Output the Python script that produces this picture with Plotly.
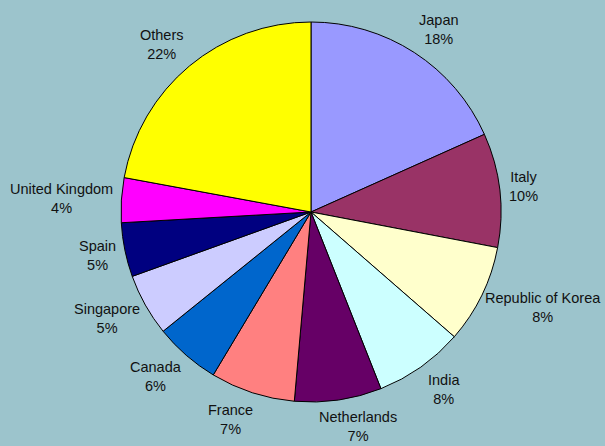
import math
import plotly.graph_objects as go

countries = ["Japan", "Italy", "Republic of Korea", "India", "Netherlands", "France",
             "Canada", "Singapore", "Spain", "United Kingdom", "Others"]
shares = [18.3, 9.7, 8.4, 7.6, 7.4, 7.2, 5.6, 5.3, 4.6, 3.8, 22.1]
pct_labels = ["18%", "10%", "8%", "8%", "7%", "7%", "6%", "5%", "5%", "4%", "22%"]
colors = ["#9999FF", "#993366", "#FFFFCC", "#CCFFFF", "#660066", "#FF8080",
          "#0066CC", "#CCCCFF", "#000080", "#FF00FF", "#FFFF00"]

W, H = 605, 446
cx, cy, r = 311, 212, 190
FONT = "Liberation Sans, Arial, sans-serif"
FS = 14.5

fig = go.Figure(go.Pie(
    labels=countries,
    values=shares,
    sort=False,
    direction="clockwise",
    rotation=0,
    marker=dict(colors=colors, line=dict(color="#000000", width=1)),
    textinfo="none",
    domain=dict(x=[(cx - r) / W, (cx + r) / W], y=[(H - cy - r) / H, (H - cy + r) / H]),
    showlegend=False,
    hoverinfo="label+percent",
))

# approximate Arial glyph widths (em) to place labels like the original
EM = {" ": 0.278, "i": 0.222, "j": 0.222, "l": 0.222, "f": 0.278, "t": 0.278,
      "r": 0.333, "m": 0.833, "w": 0.722, "k": 0.5, "s": 0.5, "c": 0.5,
      "y": 0.5, "v": 0.5, "I": 0.278, "J": 0.5, "N": 0.722, "O": 0.778,
      "R": 0.722, "C": 0.722, "%": 0.889}


def text_width(s):
    w = 0.0
    for ch in s:
        if ch in EM:
            w += EM[ch]
        elif ch.isupper():
            w += 0.667
        else:
            w += 0.556
    return w * FS


total = sum(shares)
cum = 0.0
gap = 9
half_h = 19
for name, val, pl in zip(countries, shares, pct_labels):
    mid = (cum + val / 2) / total * 2 * math.pi
    cum += val
    s, c = math.sin(mid), math.cos(mid)
    half_w = max(text_width(name), text_width(pl)) / 2
    nudge = 13 * math.copysign(1, s) * max(0.0, abs(c) - 0.4) / 0.6
    px = cx + (r + gap) * s + half_w * s + nudge
    py = cy - (r + gap) * c - half_h * c
    px = min(px, W - half_w - 2)
    py = min(py, H - 20)
    fig.add_annotation(
        x=px / W, y=1 - py / H, xref="paper", yref="paper",
        text=f"{name}<br>{pl}", showarrow=False,
        xanchor="center", yanchor="middle", align="center",
        font=dict(family=FONT, size=FS, color="#111111"),
    )

fig.update_layout(
    width=W, height=H,
    margin=dict(l=0, r=0, t=0, b=0),
    paper_bgcolor="#9cc4cc",
    plot_bgcolor="#9cc4cc",
)

fig.write_html("out.html")
